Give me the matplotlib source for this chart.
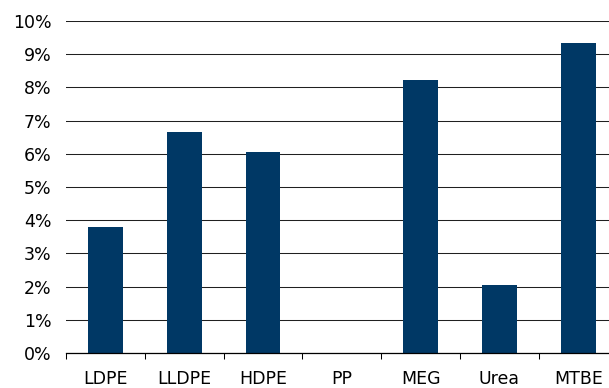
import matplotlib
matplotlib.use("Agg")
import matplotlib.pyplot as plt
from matplotlib.ticker import FixedLocator, FuncFormatter

categories = ["LDPE", "LLDPE", "HDPE", "PP", "MEG", "Urea", "MTBE"]
values = [3.80, 6.66, 6.04, 0.0, 8.21, 2.05, 9.33]
y_ticks = list(range(0, 11))

W, H = 609, 388
fig = plt.figure(figsize=(W / 100, H / 100), dpi=100)
ax = fig.add_axes([66 / W, (H - 353) / H, (617.6 - 66) / W, (353 - 21) / H])

x = list(range(len(categories)))
ax.bar(x, values, width=0.44, color="#003865", zorder=2)

ax.set_xlim(-0.5, len(categories) - 0.5)
ax.set_ylim(0, 10)

ax.set_yticks(y_ticks)
ax.yaxis.set_major_formatter(FuncFormatter(lambda v, p: f"{int(v)}%"))
ax.grid(axis="y", color="#202020", linewidth=0.75, zorder=1)
ax.tick_params(axis="y", length=0, pad=10.5, labelsize=12.5, colors="black")

ax.set_xticks(x)
ax.set_xticklabels(categories)
ax.tick_params(axis="x", which="major", length=0, pad=12.3, labelsize=12.5)
ax.xaxis.set_minor_locator(FixedLocator([i - 0.5 for i in range(len(categories) + 1)]))
ax.tick_params(axis="x", which="minor", length=4, width=0.75, direction="out", color="black")

for s in ["left", "right", "top"]:
    ax.spines[s].set_visible(False)
ax.spines["bottom"].set_linewidth(0.9)
ax.spines["bottom"].set_color("black")
ax.spines["bottom"].set_zorder(3)

fig.savefig("out.png", dpi=100)
